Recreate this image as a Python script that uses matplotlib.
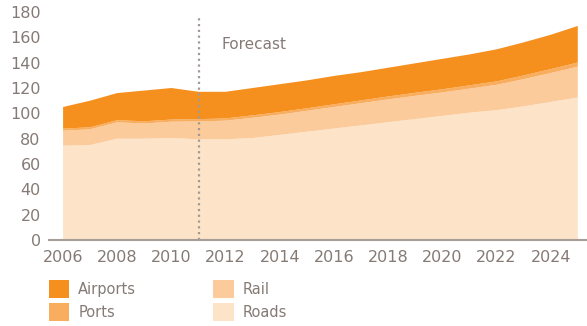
import numpy as np
import matplotlib
matplotlib.use('Agg')
from matplotlib import pyplot as plt
from matplotlib.patches import Patch

plt.rcParams['font.family'] = ['DejaVu Sans']

years = np.arange(2006, 2026)
roads = [74.5, 75, 80, 80, 80.5, 79.5, 79.5, 80.5, 83, 85.5,
         88, 90.5, 93, 95.5, 98, 100.5, 102.5, 105.5, 109, 112.5]
rail = [11.8, 12.4, 12.9, 12, 12.9, 14.1, 14.7, 16, 16, 16.5,
        17, 17.5, 18, 18.3, 18.5, 19, 20, 21.5, 22.8, 24.3]
ports = [1.6, 1.6, 1.7, 1.7, 1.7, 1.8, 1.8, 1.9, 2, 2,
         2.1, 2.2, 2.3, 2.4, 2.5, 2.6, 2.7, 2.9, 3.1, 3.3]
airports = [17.1, 21, 21.4, 24.3, 24.9, 21.6, 21, 21.6, 22, 22,
            22.4, 22.3, 22.7, 23.3, 24, 24.4, 25.3, 26.1, 27.1, 28.9]
labels = ['Roads', 'Rail', 'Ports', 'Airports']
colors = ['#fde3c8', '#fbcb9b', '#f9ad5e', '#f5901f']
forecast_year = 2011
yticks = np.arange(0, 181, 20)
xticks = np.arange(2006, 2025, 2)

txt = '#857a75'

fig = plt.figure(figsize=(5.87, 3.26), dpi=100)
ax = fig.add_axes([49/587, 1-240/326, 1-49/587, 228/326])

ax.stackplot(years, roads, rail, ports, airports, colors=colors, linewidth=0)
ax.axvline(forecast_year, ymin=0, ymax=0.985, color='#a39a96', linestyle=(0, (1, 1.6)), linewidth=1.6)
ax.text(2011.85, 154, 'Forecast', color=txt, fontsize=11, va='center', ha='left')

ax.set_xlim(2005.48, 2025.34)
ax.set_ylim(0, 180)
ax.set_yticks(yticks)
ax.set_xticks(xticks)
ax.tick_params(axis='both', length=0, labelsize=11.5, labelcolor=txt)
ax.tick_params(axis='y', pad=6)
ax.tick_params(axis='x', pad=7)
for s in ['top', 'right', 'left']:
    ax.spines[s].set_visible(False)
ax.spines['bottom'].set_color('#a89e98')
ax.spines['bottom'].set_linewidth(1.5)
ax.set_facecolor('none')

order = [3, 2, 1, 0]
handles = [Patch(facecolor=colors[i], edgecolor='none') for i in order]
fig.legend(handles, [labels[i] for i in order], ncol=2, loc='upper left',
           bbox_to_anchor=(49/587, 1-280/326), frameon=False, fontsize=10.5,
           labelcolor=txt, handlelength=1.4, handleheight=1.5,
           handletextpad=0.6, columnspacing=5.3, labelspacing=0.35, borderpad=0,
           borderaxespad=0)

fig.savefig('out.png', dpi=100)
